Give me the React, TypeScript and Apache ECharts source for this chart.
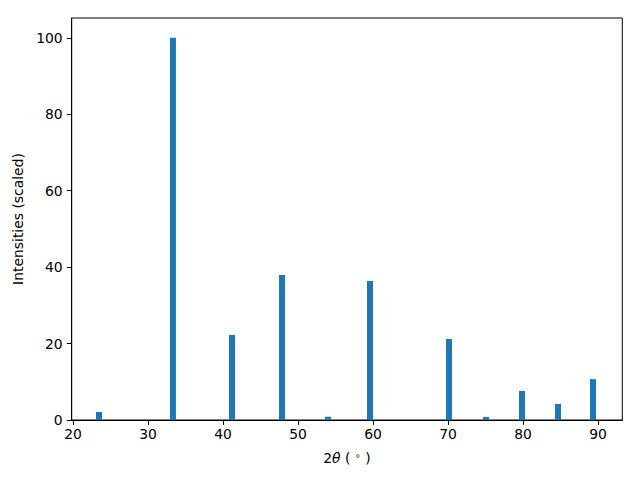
import React, { useEffect, useRef } from "react";
import * as echarts from "echarts";

const twoTheta = [23.47, 33.33, 41.2, 47.87, 54.0, 59.6, 70.13, 75.07, 79.87, 84.67, 89.33];
const intensity = [2.1, 100, 22.25, 37.96, 0.85, 36.39, 21.2, 0.8, 7.6, 4.19, 10.7];
const xTicks = [20, 30, 40, 50, 60, 70, 80, 90];
const yTicks = [0, 20, 40, 60, 80, 100];
const barWidthDeg = 0.8;

export default function App() {
  const ref = useRef<HTMLDivElement>(null);
  useEffect(() => {
    document.body.style.margin = "0";
    const chart = echarts.init(ref.current!, null, { renderer: "svg" });
    const font = "DejaVu Sans";
    chart.setOption({
      animation: false,
      backgroundColor: "#ffffff",
      textStyle: { fontFamily: font },
      grid: {
        left: 71.7,
        right: 17.7,
        top: 18,
        bottom: 60,
        show: true,
        borderColor: "#000",
        borderWidth: 1,
        backgroundColor: "transparent",
      },
      xAxis: {
        type: "value",
        min: 19.83,
        max: 93.24,
        splitLine: { show: false },
        axisLine: { lineStyle: { color: "#000", width: 1 } },
        axisTick: { customValues: xTicks, length: 4.9, lineStyle: { color: "#000" } },
        axisLabel: { customValues: xTicks, color: "#000", fontSize: 13.9, margin: 7, fontFamily: font },
        name: "2{i|θ} ( {s|∘} )",
        nameLocation: "middle",
        nameGap: 30,
        nameTextStyle: {
          color: "#000",
          fontSize: 13.9,
          fontFamily: font,
          rich: {
            i: { fontStyle: "italic", fontSize: 13.9, fontFamily: font, color: "#000" },
            s: { fontSize: 9.7, verticalAlign: "top", padding: [0, 0, 6, 0], fontFamily: font, color: "#000" },
          },
        },
      },
      yAxis: {
        type: "value",
        min: 0,
        max: 105.2,
        splitLine: { show: false },
        axisLine: { show: true, lineStyle: { color: "#000", width: 1 } },
        axisTick: { show: true, customValues: yTicks, length: 4.9, lineStyle: { color: "#000" } },
        axisLabel: { customValues: yTicks, color: "#000", fontSize: 13.9, margin: 9, fontFamily: font },
        name: "Intensities (scaled)",
        nameLocation: "middle",
        nameGap: 40,
        nameTextStyle: { color: "#000", fontSize: 13.9, fontFamily: font },
      },
      series: [
        {
          type: "custom",
          data: twoTheta.map((x, i) => [x, intensity[i]]),
          renderItem: (params: any, api: any) => {
            const x = api.value(0);
            const y = api.value(1);
            const p0 = api.coord([x - barWidthDeg / 2, y]);
            const p1 = api.coord([x + barWidthDeg / 2, 0]);
            return {
              type: "rect",
              shape: { x: p0[0], y: p0[1], width: p1[0] - p0[0], height: p1[1] - p0[1] },
              style: { fill: "#1f77b4" },
            };
          },
        },
      ],
    });
    return () => chart.dispose();
  }, []);
  return <div ref={ref} style={{ width: 640, height: 480 }} />;
}
